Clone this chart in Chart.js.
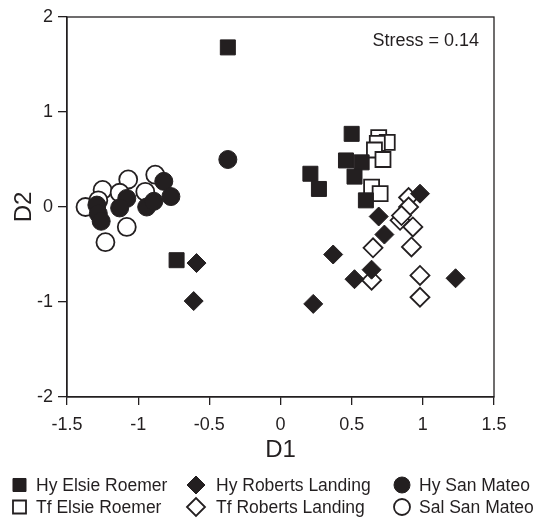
<!DOCTYPE html>
<html>
<head>
<meta charset="utf-8">
<script src="https://cdn.jsdelivr.net/npm/chart.js@4/dist/chart.umd.min.js"></script>
<style>
  body { margin: 0; background: #fff; }
</style>
</head>
<body>
<canvas id="mainChart" width="540" height="518"></canvas>
<script>
// NMDS scores, [D1, D2]
var hyElsieRoemer = [[-0.37, 1.68], [-0.73, -0.56], [0.50, 0.77], [0.46, 0.49], [0.57, 0.47],
    [0.52, 0.32], [0.21, 0.35], [0.27, 0.19], [0.60, 0.07]];
var tfElsieRoemer = [[0.69, 0.73], [0.75, 0.68], [0.68, 0.67], [0.66, 0.60], [0.72, 0.50],
    [0.64, 0.21], [0.70, 0.14]];
var hyRobertsLanding = [[-0.59, -0.59], [-0.61, -0.99], [0.98, 0.14], [0.69, -0.10], [0.73, -0.29],
    [0.37, -0.50], [0.64, -0.66], [0.52, -0.76], [1.23, -0.75], [0.23, -1.02]];
var tfRobertsLanding = [[0.90, 0.10], [0.90, 0.00], [0.84, -0.14], [0.85, -0.09], [0.93, -0.21],
    [0.65, -0.43], [0.92, -0.42], [0.64, -0.77], [0.98, -0.72], [0.98, -0.95]];
var hySanMateo = [[-1.29, 0.02], [-1.28, -0.07], [-1.26, -0.15], [-1.08, 0.09], [-1.13, -0.01],
    [-0.94, 0.00], [-0.89, 0.06], [-0.82, 0.27], [-0.77, 0.11], [-0.37, 0.50]];
var salSanMateo = [[-1.37, 0.00], [-1.25, 0.18], [-1.07, 0.29], [-1.13, 0.15], [-0.88, 0.34],
    [-0.95, 0.16], [-1.08, -0.21], [-1.23, -0.37], [-1.28, 0.07]];

var xTicks = [-1.5, -1, -0.5, 0, 0.5, 1, 1.5];
var yTicks = [-2, -1, 0, 1, 2];
var stressLabel = "Stress = 0.14";

var ink = '#231f20';
var fontName = '"Liberation Sans", Arial, Helvetica, sans-serif';

function toPoints(list) {
    return list.map(function (p) { return {x: p[0], y: p[1]}; });
}

function series(label, list, style, filled, radius, legendRadius) {
    return {
        label: label,
        data: toPoints(list),
        pointStyle: style,
        pointRadius: radius,
        pointHoverRadius: radius,
        backgroundColor: filled ? ink : '#ffffff',
        borderColor: ink,
        borderWidth: filled ? 1 : 1.8,
        legendRadius: legendRadius
    };
}

// filled markers first so they are drawn on top
var datasets = [
    series("Hy Elsie Roemer", hyElsieRoemer, 'rect', true, 10.6, 9.2),
    series("Hy Roberts Landing", hyRobertsLanding, 'rectRot', true, 9.5, 9),
    series("Hy San Mateo", hySanMateo, 'circle', true, 9, 8),
    series("Tf Elsie Roemer", tfElsieRoemer, 'rect', false, 10.6, 9.2),
    series("Tf Roberts Landing", tfRobertsLanding, 'rectRot', false, 9.5, 9),
    series("Sal San Mateo", salSanMateo, 'circle', false, 9, 8)
];

//Box round the plot, stress note and the 3 column legend
var extras = {
    id: 'extras',
    afterDraw: function (chart) {
        var ctx = chart.ctx;
        var a = chart.chartArea;
        ctx.save();
        ctx.strokeStyle = ink;
        ctx.lineWidth = 1.3;
        ctx.strokeRect(a.left, a.top, a.right - a.left, a.bottom - a.top);

        ctx.fillStyle = ink;
        ctx.font = '18px ' + fontName;
        ctx.textAlign = 'right';
        ctx.textBaseline = 'middle';
        ctx.fillText(stressLabel, a.right - 15, a.top + 24);

        // legend
        var colMark = [19.5, 196, 402];
        var colText = [36, 216, 419];
        var rowY = [485, 507];
        ctx.font = '17.5px ' + fontName;
        ctx.textAlign = 'left';
        chart.data.datasets.forEach(function (ds, i) {
            var col = i % 3, row = Math.floor(i / 3);
            ctx.fillStyle = ds.backgroundColor;
            ctx.strokeStyle = ds.borderColor;
            ctx.lineWidth = ds.borderWidth;
            Chart.helpers.drawPoint(ctx, {
                pointStyle: ds.pointStyle, rotation: 0,
                radius: ds.legendRadius, borderWidth: ds.borderWidth
            }, colMark[col], rowY[row]);
            ctx.fillStyle = ink;
            ctx.fillText(ds.label, colText[col], rowY[row] + 1);
        });
        ctx.restore();
    }
};

function plainLabel(v) {
    return String(v);
}

var ctx = document.getElementById('mainChart').getContext('2d');
var chart = new Chart(ctx, {
    type: 'scatter',
    data: { datasets: datasets },
    options: {
        responsive: false,
        animation: false,
        layout: { padding: { top: 17, right: 46, left: 0, bottom: 51 } },
        plugins: { legend: { display: false }, tooltip: { enabled: false } },
        scales: {
            x: {
                min: -1.5, max: 1.5,
                afterBuildTicks: function (s) { s.ticks = xTicks.map(function (v) { return {value: v}; }); },
                afterFit: function (s) { s.height = 70; },
                ticks: { color: ink, padding: 9, maxRotation: 0, callback: plainLabel,
                    font: { family: fontName, size: 18 } },
                grid: { drawOnChartArea: false, tickLength: 8, color: ink, lineWidth: 1.3 },
                border: { color: ink, width: 1.3 },
                title: { display: true, text: 'D1', color: ink, padding: {top: 0, bottom: 2},
                    font: { family: fontName, size: 24 } }
            },
            y: {
                min: -2, max: 2,
                afterBuildTicks: function (s) { s.ticks = yTicks.map(function (v) { return {value: v}; }); },
                afterFit: function (s) { s.width = 67; },
                ticks: { color: ink, padding: 5, callback: plainLabel, font: { family: fontName, size: 18 } },
                grid: { drawOnChartArea: false, tickLength: 9, color: ink, lineWidth: 1.3 },
                border: { color: ink, width: 1.3 },
                title: { display: true, text: 'D2', color: ink, padding: {top: 10, bottom: 0},
                    font: { family: fontName, size: 24 } }
            }
        }
    },
    plugins: [extras]
});
</script>
</body>
</html>
